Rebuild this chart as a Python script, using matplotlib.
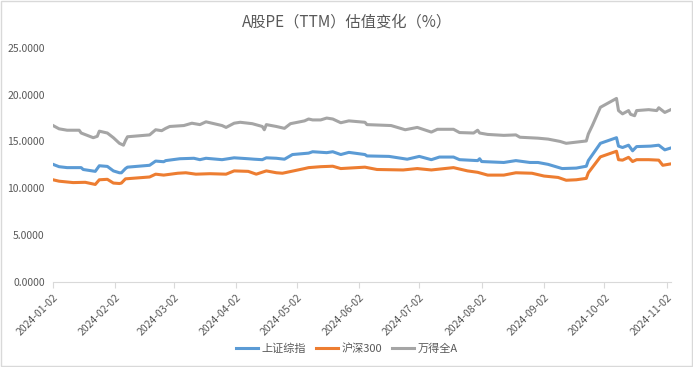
import matplotlib
matplotlib.use("Agg")
import matplotlib.pyplot as plt
import matplotlib.dates as mdates
import pandas as pd
from matplotlib.patches import Rectangle

plt.rcParams['font.family'] = ['Noto Sans CJK SC', 'DejaVu Sans']

# 上证综指
sh_dates = ['2024-01-02', '2024-01-05', '2024-01-09', '2024-01-16', '2024-01-17', '2024-01-23',
            '2024-01-25', '2024-01-29', '2024-02-01', '2024-02-04', '2024-02-05', '2024-02-07',
            '2024-02-08', '2024-02-19', '2024-02-22', '2024-02-26', '2024-02-27', '2024-03-05',
            '2024-03-12', '2024-03-15', '2024-03-18', '2024-03-26', '2024-04-01', '2024-04-08',
            '2024-04-11', '2024-04-15', '2024-04-17', '2024-04-22', '2024-04-26', '2024-04-30',
            '2024-05-08', '2024-05-10', '2024-05-17', '2024-05-20', '2024-05-24', '2024-05-28',
            '2024-06-05', '2024-06-06', '2024-06-17', '2024-06-26', '2024-07-02', '2024-07-08',
            '2024-07-12', '2024-07-19', '2024-07-22', '2024-07-31', '2024-08-01', '2024-08-02',
            '2024-08-13', '2024-08-19', '2024-08-26', '2024-08-30', '2024-09-04', '2024-09-11',
            '2024-09-18', '2024-09-23', '2024-09-24', '2024-09-30', '2024-10-08', '2024-10-09',
            '2024-10-11', '2024-10-14', '2024-10-16', '2024-10-18', '2024-10-25', '2024-10-29',
            '2024-11-01', '2024-11-04']
sh_pe = [12.55, 12.3, 12.2, 12.2, 12.0, 11.8,
         12.4, 12.33, 11.85, 11.65, 11.65, 12.1,
         12.25, 12.45, 12.9, 12.83, 12.95, 13.15,
         13.2, 13.05, 13.2, 13.05, 13.25, 13.15,
         13.1, 13.05, 13.25, 13.2, 13.1, 13.6,
         13.75, 13.9, 13.8, 13.9, 13.6, 13.83,
         13.6, 13.45, 13.4, 13.1, 13.4, 13.05,
         13.33, 13.33, 13.05, 12.95, 13.15, 12.85,
         12.75, 12.95, 12.75, 12.75, 12.55, 12.1,
         12.15, 12.35, 12.95, 14.8, 15.4, 14.5,
         14.35, 14.6, 14.0, 14.45, 14.5, 14.6,
         14.1, 14.3]

# 沪深300
hs_dates = ['2024-01-02', '2024-01-05', '2024-01-12', '2024-01-18', '2024-01-23', '2024-01-25',
            '2024-01-29', '2024-02-01', '2024-02-04', '2024-02-05', '2024-02-07', '2024-02-19',
            '2024-02-22', '2024-02-26', '2024-03-04', '2024-03-08', '2024-03-13', '2024-03-20',
            '2024-03-28', '2024-04-01', '2024-04-08', '2024-04-12', '2024-04-17', '2024-04-22',
            '2024-04-25', '2024-05-06', '2024-05-08', '2024-05-14', '2024-05-20', '2024-05-24',
            '2024-06-05', '2024-06-11', '2024-06-24', '2024-07-01', '2024-07-08', '2024-07-19',
            '2024-07-26', '2024-07-31', '2024-08-05', '2024-08-13', '2024-08-19', '2024-08-27',
            '2024-09-02', '2024-09-09', '2024-09-13', '2024-09-18', '2024-09-23', '2024-09-24',
            '2024-09-30', '2024-10-08', '2024-10-09', '2024-10-11', '2024-10-14', '2024-10-16',
            '2024-10-18', '2024-10-24', '2024-10-29', '2024-10-31', '2024-11-04']
hs_pe = [10.9, 10.75, 10.6, 10.63, 10.4, 10.9,
         10.95, 10.55, 10.5, 10.55, 11.0, 11.2,
         11.5, 11.4, 11.6, 11.65, 11.5, 11.55,
         11.5, 11.85, 11.8, 11.5, 11.85, 11.65,
         11.6, 12.1, 12.2, 12.3, 12.35, 12.1,
         12.25, 12.0, 11.95, 12.1, 11.95, 12.2,
         11.85, 11.7, 11.4, 11.4, 11.65, 11.6,
         11.3, 11.15, 10.85, 10.9, 11.05, 11.65,
         13.35, 13.95, 13.05, 13.0, 13.3, 12.85,
         13.05, 13.05, 13.0, 12.45, 12.6]

# 万得全A
wd_dates = ['2024-01-02', '2024-01-05', '2024-01-09', '2024-01-15', '2024-01-16', '2024-01-22',
            '2024-01-24', '2024-01-25', '2024-01-29', '2024-02-01', '2024-02-04', '2024-02-06',
            '2024-02-07', '2024-02-08', '2024-02-19', '2024-02-22', '2024-02-25', '2024-02-27',
            '2024-02-29', '2024-03-07', '2024-03-11', '2024-03-15', '2024-03-18', '2024-03-21',
            '2024-03-26', '2024-03-28', '2024-04-01', '2024-04-04', '2024-04-10', '2024-04-15',
            '2024-04-16', '2024-04-17', '2024-04-22', '2024-04-26', '2024-04-29', '2024-05-06',
            '2024-05-08', '2024-05-10', '2024-05-14', '2024-05-17', '2024-05-20', '2024-05-24',
            '2024-05-28', '2024-06-05', '2024-06-06', '2024-06-18', '2024-06-25', '2024-07-01',
            '2024-07-08', '2024-07-11', '2024-07-19', '2024-07-22', '2024-07-29', '2024-07-31',
            '2024-08-01', '2024-08-05', '2024-08-13', '2024-08-19', '2024-08-21', '2024-08-30',
            '2024-09-04', '2024-09-10', '2024-09-13', '2024-09-19', '2024-09-23', '2024-09-24',
            '2024-09-26', '2024-09-30', '2024-10-08', '2024-10-09', '2024-10-11', '2024-10-14',
            '2024-10-15', '2024-10-17', '2024-10-18', '2024-10-24', '2024-10-28', '2024-10-29',
            '2024-11-01', '2024-11-04']
wd_pe = [16.7, 16.35, 16.2, 16.2, 15.9, 15.4,
         15.55, 16.1, 15.9, 15.4, 14.8, 14.6,
         15.1, 15.5, 15.7, 16.25, 16.15, 16.4,
         16.6, 16.7, 16.95, 16.8, 17.1, 16.95,
         16.7, 16.5, 16.95, 17.05, 16.9, 16.6,
         16.25, 16.8, 16.6, 16.4, 16.9, 17.2,
         17.4, 17.3, 17.3, 17.5, 17.4, 17.0,
         17.2, 17.05, 16.8, 16.7, 16.25, 16.5,
         16.0, 16.3, 16.3, 15.95, 15.9, 16.2,
         15.9, 15.75, 15.65, 15.7, 15.45, 15.35,
         15.25, 15.0, 14.8, 14.95, 15.05, 15.8,
         16.7, 18.65, 19.6, 18.3, 17.95, 18.3,
         17.9, 17.75, 18.3, 18.4, 18.3, 18.6,
         18.1, 18.4]

tick_dates = ['2024-01-02', '2024-02-02', '2024-03-02', '2024-04-02', '2024-05-02', '2024-06-02',
              '2024-07-02', '2024-08-02', '2024-09-02', '2024-10-02', '2024-11-02']

fig = plt.figure(figsize=(6.93, 3.67), dpi=100)
ax = fig.add_axes([0.0765, 0.2324, 0.8915, 0.637])

ax.plot(pd.to_datetime(sh_dates), sh_pe, color='#5B9BD5', lw=2.2, label='上证综指')
ax.plot(pd.to_datetime(hs_dates), hs_pe, color='#ED7D31', lw=2.2, label='沪深300')
ax.plot(pd.to_datetime(wd_dates), wd_pe, color='#A5A5A5', lw=2.2, label='万得全A')

ax.set_ylim(0, 25)
ax.set_yticks([0, 5, 10, 15, 20, 25])
ax.set_yticklabels(['%.4f' % v for v in [0, 5, 10, 15, 20, 25]])
ax.set_xlim(pd.Timestamp('2024-01-02'), pd.Timestamp('2024-11-04'))
ax.set_xticks(pd.to_datetime(tick_dates))
ax.xaxis.set_major_formatter(mdates.DateFormatter('%Y-%m-%d'))
plt.setp(ax.get_xticklabels(), rotation=45, ha='right', rotation_mode='anchor')

for s in ['top', 'right', 'left']:
    ax.spines[s].set_visible(False)
ax.spines['bottom'].set_color('#D9D9D9')
ax.tick_params(axis='x', colors='#D9D9D9', length=4, labelcolor='#595959', labelsize=7.5)
ax.tick_params(axis='y', length=0, labelcolor='#595959', labelsize=7.5, pad=6)

fig.text(0.5, 0.94, 'A股PE（TTM）估值变化（%）', ha='center', va='center', fontsize=11, color='#595959')
fig.legend(loc='center', bbox_to_anchor=(0.5, 0.05), ncol=3, frameon=False, fontsize=8,
           labelcolor='#595959', handlelength=2.0, columnspacing=0.9, handletextpad=0.3)

fig.patches.append(Rectangle((0.002, 0.003), 0.996, 0.994, transform=fig.transFigure,
                             fill=False, edgecolor='#D9D9D9', lw=1))

fig.savefig('out.png', dpi=100)
